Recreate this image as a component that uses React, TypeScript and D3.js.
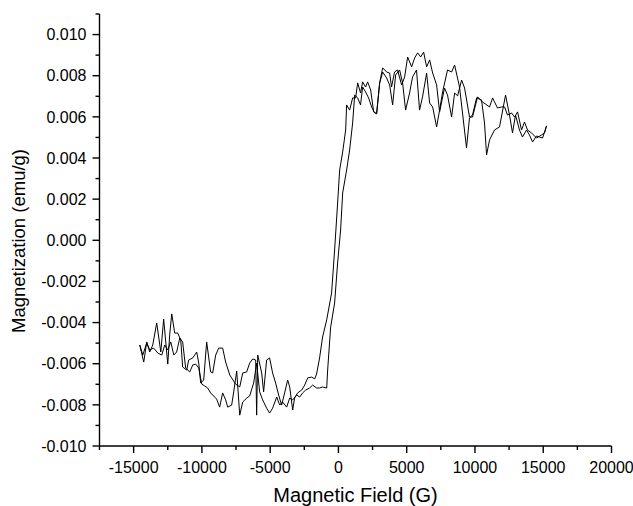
import React from "react";
import * as d3 from "d3";

// Magnetic field (G) vs magnetization (emu/g) — ascending branch
const ascendingBranch: [number, number][] = [
  [-14550, -0.00509], [-14330, -0.00558], [-14040, -0.00499], [-13820, -0.00533], [-13530, -0.00524],
  [-13230, -0.00548], [-12940, -0.00558], [-12720, -0.00509], [-12500, -0.00533], [-12280, -0.00494],
  [-12060, -0.00558], [-11850, -0.00543], [-11620, -0.00475], [-11410, -0.00494], [-11190, -0.00621],
  [-10890, -0.0064], [-10670, -0.00606], [-10450, -0.00602], [-10230, -0.00621], [-10010, -0.00699],
  [-9800, -0.00708], [-9580, -0.00718], [-9360, -0.00742], [-9140, -0.00757], [-8920, -0.00772],
  [-8700, -0.00811], [-8480, -0.00742], [-8260, -0.00776], [-8110, -0.00811], [-7820, -0.00801],
  [-7670, -0.00737], [-7450, -0.00636], [-7230, -0.0085], [-7010, -0.00786], [-6720, -0.00767],
  [-6500, -0.00757], [-6210, -0.00694], [-5990, -0.00597], [-5770, -0.00737], [-5550, -0.00776],
  [-5260, -0.00816], [-5040, -0.0084], [-4820, -0.00816], [-4520, -0.00762], [-4300, -0.00801],
  [-4090, -0.00786], [-3790, -0.00811], [-3570, -0.00767], [-3350, -0.00776], [-3060, -0.00752],
  [-2840, -0.00762], [-2620, -0.00742], [-2400, -0.00728], [-2110, -0.00718], [-1890, -0.00704],
  [-1600, -0.00718], [-1380, -0.00718], [-1160, -0.00713], [-860, -0.00718], [-790, -0.00631],
  [-570, -0.00422], [-280, -0.00305], [-60, -0.0011], [160, 0.0005], [310, 0.0023],
  [600, 0.00342], [820, 0.00439], [1040, 0.0057], [1190, 0.00706], [1410, 0.00692],
  [1620, 0.00658], [1770, 0.00745], [1990, 0.00721], [2210, 0.00692], [2430, 0.00648],
  [2650, 0.00619], [2800, 0.00619], [3020, 0.00765], [3240, 0.00818], [3530, 0.00789],
  [3750, 0.00755], [3970, 0.00658], [4190, 0.00804], [4480, 0.00828], [4700, 0.00765],
  [4920, 0.00633], [5210, 0.00716], [5430, 0.00794], [5720, 0.00828], [5940, 0.00633],
  [6160, 0.00697], [6460, 0.00813], [6680, 0.00667], [6900, 0.00648], [7190, 0.00551],
  [7410, 0.00633], [7630, 0.00721], [7990, 0.00828], [8290, 0.00818], [8510, 0.00852],
  [8870, 0.00745], [9380, 0.00449], [9600, 0.00595], [9820, 0.00609], [10120, 0.00692],
  [10480, 0.00682], [10700, 0.0057], [10850, 0.00415], [11070, 0.00488], [11430, 0.00536],
  [11800, 0.00551], [12240, 0.00706], [12530, 0.00609], [12750, 0.00522], [12970, 0.00609],
  [13260, 0.00536], [13480, 0.00502], [13780, 0.00536], [13990, 0.00512], [14220, 0.00478],
  [14510, 0.00507], [14730, 0.00502], [14950, 0.00497], [15240, 0.00556],
];

// descending branch
const descendingBranch: [number, number][] = [
  [15240, 0.00556], [15100, 0.00522], [14870, 0.00512], [14510, 0.00497], [14140, 0.00522],
  [13850, 0.00536], [13630, 0.00575], [13410, 0.00536], [13120, 0.00624], [12900, 0.00599],
  [12680, 0.00619], [12380, 0.00609], [12170, 0.00648], [11950, 0.00648], [11650, 0.00643],
  [11290, 0.00692], [11070, 0.00648], [10780, 0.00662], [10550, 0.00672], [10190, 0.00697],
  [9820, 0.00599], [9600, 0.00599], [9240, 0.0074], [9020, 0.00779], [8730, 0.00702],
  [8510, 0.00716], [8290, 0.00599], [7990, 0.00706], [7770, 0.0074], [7410, 0.00624],
  [7190, 0.00755], [6900, 0.00813], [6680, 0.00877], [6460, 0.00843], [6240, 0.00915],
  [6020, 0.00891], [5800, 0.00911], [5580, 0.00886], [5360, 0.00843], [5070, 0.00891],
  [4850, 0.00794], [4630, 0.00755], [4330, 0.00828], [4110, 0.00818], [3890, 0.00745],
  [3750, 0.00813], [3530, 0.00818], [3240, 0.00838], [3020, 0.00765], [2800, 0.00614],
  [2580, 0.00624], [2360, 0.00731], [2140, 0.0077], [1990, 0.00745], [1770, 0.0077],
  [1620, 0.00716], [1410, 0.00765], [1260, 0.00692], [1040, 0.00692], [820, 0.00633],
  [600, 0.00658], [530, 0.00536], [310, 0.00429], [90, 0.00342], [-60, 0.00181],
  [-280, -0.00047], [-500, -0.00256], [-860, -0.00387], [-1160, -0.0047], [-1380, -0.00572],
  [-1600, -0.0065], [-1740, -0.00674], [-1960, -0.00665], [-2250, -0.00669], [-2470, -0.00704],
  [-2690, -0.00728], [-2990, -0.00742], [-3210, -0.00767], [-3350, -0.00825], [-3570, -0.00713],
  [-3720, -0.00679], [-3940, -0.00742], [-4160, -0.00801], [-4380, -0.00752], [-4600, -0.00694],
  [-4820, -0.00645], [-5040, -0.00572], [-5260, -0.00582], [-5480, -0.00737], [-5620, -0.00645],
  [-5910, -0.00558], [-5990, -0.0085], [-6060, -0.00582], [-6280, -0.00577], [-6500, -0.00597],
  [-6720, -0.0064], [-7010, -0.00645], [-7230, -0.00713], [-7530, -0.00699], [-7960, -0.00655],
  [-8260, -0.00592], [-8480, -0.00524], [-8770, -0.00524], [-8990, -0.00558], [-9210, -0.00645],
  [-9360, -0.0064], [-9650, -0.00494], [-9870, -0.00679], [-10090, -0.00694], [-10230, -0.00597],
  [-10380, -0.00543], [-10670, -0.00572], [-10970, -0.00582], [-11110, -0.00631], [-11410, -0.00616],
  [-11550, -0.00485], [-11770, -0.00451], [-11990, -0.00451], [-12210, -0.00358], [-12360, -0.0046],
  [-12500, -0.00602], [-12800, -0.00383], [-13010, -0.00543], [-13310, -0.00402], [-13600, -0.00509],
  [-13820, -0.00543], [-14040, -0.00494], [-14260, -0.00592], [-14550, -0.00509],
];

const xMajorTicks = [-15000, -10000, -5000, 0, 5000, 10000, 15000, 20000];
const xMinorTicks = [-17500, -12500, -7500, -2500, 2500, 7500, 12500, 17500];
const yMajorTicks = [-0.01, -0.008, -0.006, -0.004, -0.002, 0, 0.002, 0.004, 0.006, 0.008, 0.01];
const yMinorTicks = [-0.009, -0.007, -0.005, -0.003, -0.001, 0.001, 0.003, 0.005, 0.007, 0.009, 0.011];
const xTitle = "Magnetic Field (G)";
const yTitle = "Magnetization (emu/g)";

const FONT = "'Liberation Sans', Arial, Helvetica, sans-serif";

export default function App() {
  const W = 633;
  const H = 506;
  const x = d3.scaleLinear().domain([-17500, 20000]).range([99.5, 611.5]);
  const y = d3.scaleLinear().domain([-0.01, 0.011]).range([446, 14]);
  const line = d3
    .line<[number, number]>()
    .x((d) => x(d[0]))
    .y((d) => y(d[1]));

  const axisX = x(-17500);
  const axisY = y(-0.01);

  return (
    <svg
      width={W}
      height={H}
      style={{ position: "absolute", left: 0, top: 0, background: "#fff" }}
      fontFamily={FONT}
    >
      <rect x={0} y={0} width={W} height={H} fill="#fff" />
      {/* data */}
      <path d={line(ascendingBranch) || ""} fill="none" stroke="#000" strokeWidth={1} strokeLinejoin="miter" />
      <path d={line(descendingBranch) || ""} fill="none" stroke="#000" strokeWidth={1} strokeLinejoin="miter" />

      {/* y axis */}
      <line x1={axisX} x2={axisX} y1={y(0.011)} y2={axisY} stroke="#000" strokeWidth={1.4} />
      {yMajorTicks.map((t) => (
        <g key={"ym" + t}>
          <line x1={axisX - 7} x2={axisX} y1={y(t)} y2={y(t)} stroke="#000" strokeWidth={1.4} />
          <text x={axisX - 13} y={y(t)} dy="0.36em" textAnchor="end" fontSize={16} fill="#000">
            {d3.format(".3f")(t).replace("−", "-")}
          </text>
        </g>
      ))}
      {yMinorTicks.map((t) => (
        <line key={"yn" + t} x1={axisX - 4} x2={axisX} y1={y(t)} y2={y(t)} stroke="#000" strokeWidth={1.4} />
      ))}

      {/* x axis */}
      <line x1={axisX} x2={x(20000)} y1={axisY} y2={axisY} stroke="#000" strokeWidth={1.4} />
      {xMajorTicks.map((t) => (
        <g key={"xm" + t}>
          <line x1={x(t)} x2={x(t)} y1={axisY} y2={axisY + 7} stroke="#000" strokeWidth={1.4} />
          <text x={x(t)} y={473} textAnchor="middle" fontSize={16} fill="#000">
            {String(t)}
          </text>
        </g>
      ))}
      {xMinorTicks.map((t) => (
        <line key={"xn" + t} x1={x(t)} x2={x(t)} y1={axisY} y2={axisY + 4} stroke="#000" strokeWidth={1.4} />
      ))}

      {/* titles */}
      <text x={(x(-17500) + x(20000)) / 2} y={502} textAnchor="middle" fontSize={20} fill="#000">
        {xTitle}
      </text>
      <text
        transform={`translate(25, 241) rotate(-90)`}
        textAnchor="middle"
        fontSize={18.5}
        fill="#000"
      >
        {yTitle}
      </text>
    </svg>
  );
}
